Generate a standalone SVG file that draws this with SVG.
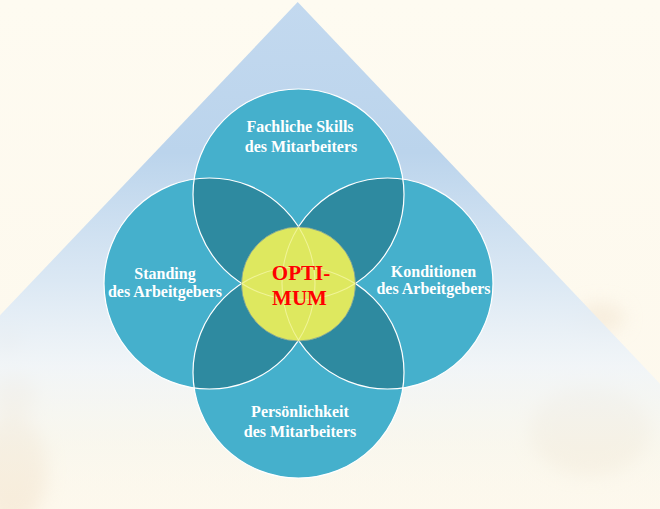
<svg xmlns="http://www.w3.org/2000/svg" width="660" height="509" viewBox="0 0 660 509">
<defs>
<linearGradient id="bg" x1="0" y1="0" x2="0" y2="509" gradientUnits="userSpaceOnUse">
<stop offset="0" stop-color="#FEFBF1"/>
<stop offset="1" stop-color="#FDF8EC"/>
</linearGradient>
<linearGradient id="tri" x1="0" y1="0" x2="0" y2="509" gradientUnits="userSpaceOnUse">
<stop offset="0" stop-color="#C3D9EF" stop-opacity="1"/>
<stop offset="0.3" stop-color="#BBD4EC" stop-opacity="1"/>
<stop offset="0.55" stop-color="#D9E7F4" stop-opacity="0.95"/>
<stop offset="0.72" stop-color="#EEF4FA" stop-opacity="0.8"/>
<stop offset="0.88" stop-color="#F6F6EE" stop-opacity="0.55"/>
<stop offset="1" stop-color="#FDF9EE" stop-opacity="0.3"/>
</linearGradient>
<filter id="blur" x="-50%" y="-50%" width="200%" height="200%">
<feGaussianBlur stdDeviation="9"/>
</filter>
<clipPath id="cT"><circle cx="298.5" cy="194.5" r="105.5"/></clipPath>
<clipPath id="cB"><circle cx="298.5" cy="372.5" r="105.5"/></clipPath>
<clipPath id="cY"><circle cx="298.5" cy="284" r="57"/></clipPath>
<style>
.petal{fill:#45B0CC;}
.lens{fill:#2E8AA0;}
.ring{fill:none;stroke:#FFFFFF;stroke-width:1.2;}
.inner{fill:none;stroke:#F6F7A8;stroke-width:1.1;opacity:0.75;}
.lbl{font-family:"Liberation Serif","Times New Roman",serif;font-weight:bold;font-size:16px;fill:#FFFFFF;text-anchor:middle;}
.core{font-family:"Liberation Serif","Times New Roman",serif;font-weight:bold;font-size:21px;fill:#FF0000;text-anchor:middle;}
</style>
</defs>

<rect x="0" y="0" width="660" height="509" fill="url(#bg)"/>
<g filter="url(#blur)" opacity="0.6">
<ellipse cx="12" cy="470" rx="35" ry="55" fill="#F0DCC2"/>
<ellipse cx="14" cy="395" rx="22" ry="22" fill="#F2E0C8"/>
<ellipse cx="8" cy="340" rx="14" ry="14" fill="#F3E3CD"/>
<ellipse cx="590" cy="430" rx="60" ry="45" fill="#F0E3CF"/>
<ellipse cx="600" cy="318" rx="25" ry="15" fill="#F3E6D3"/>
</g>
<polygon points="297.7,2 779,509 -184,509" fill="url(#tri)"/>

<g id="node-top">
<circle class="petal" cx="298.5" cy="194.5" r="105.5"/>
<text class="lbl" x="300" y="132">Fachliche Skills</text>
<text class="lbl" x="301" y="152">des Mitarbeiters</text>
</g>
<g id="node-left">
<circle class="petal" cx="209.5" cy="283.5" r="105.5"/>
<text class="lbl" x="165" y="279">Standing</text>
<text class="lbl" x="165" y="296.8">des Arbeitgebers</text>
</g>
<g id="node-right">
<circle class="petal" cx="387.5" cy="283.5" r="105.5"/>
<text class="lbl" x="433.5" y="276.5">Konditionen</text>
<text class="lbl" x="433.5" y="294.3">des Arbeitgebers</text>
</g>
<g id="node-bottom">
<circle class="petal" cx="298.5" cy="372.5" r="105.5"/>
<text class="lbl" x="300" y="417">Persönlichkeit</text>
<text class="lbl" x="300" y="437">des Mitarbeiters</text>
</g>

<g id="overlaps">
<circle class="lens" cx="209.5" cy="283.5" r="105.5" clip-path="url(#cT)"/>
<circle class="lens" cx="387.5" cy="283.5" r="105.5" clip-path="url(#cT)"/>
<circle class="lens" cx="209.5" cy="283.5" r="105.5" clip-path="url(#cB)"/>
<circle class="lens" cx="387.5" cy="283.5" r="105.5" clip-path="url(#cB)"/>
</g>

<g id="outlines">
<circle class="ring" cx="298.5" cy="194.5" r="105.5"/>
<circle class="ring" cx="209.5" cy="283.5" r="105.5"/>
<circle class="ring" cx="387.5" cy="283.5" r="105.5"/>
<circle class="ring" cx="298.5" cy="372.5" r="105.5"/>
</g>

<g id="connectors"/>

<g id="node-center">
<circle cx="298.5" cy="284" r="57" fill="#DEE85F" stroke="#7E9FA0" stroke-width="0.8"/>
<g clip-path="url(#cY)">
<circle class="inner" cx="298.5" cy="194.5" r="105.5"/>
<circle class="inner" cx="209.5" cy="283.5" r="105.5"/>
<circle class="inner" cx="387.5" cy="283.5" r="105.5"/>
<circle class="inner" cx="298.5" cy="372.5" r="105.5"/>
</g>
<text class="core" x="301" y="280">OPTI-</text>
<text class="core" x="299.5" y="305">MUM</text>
</g>
</svg>
